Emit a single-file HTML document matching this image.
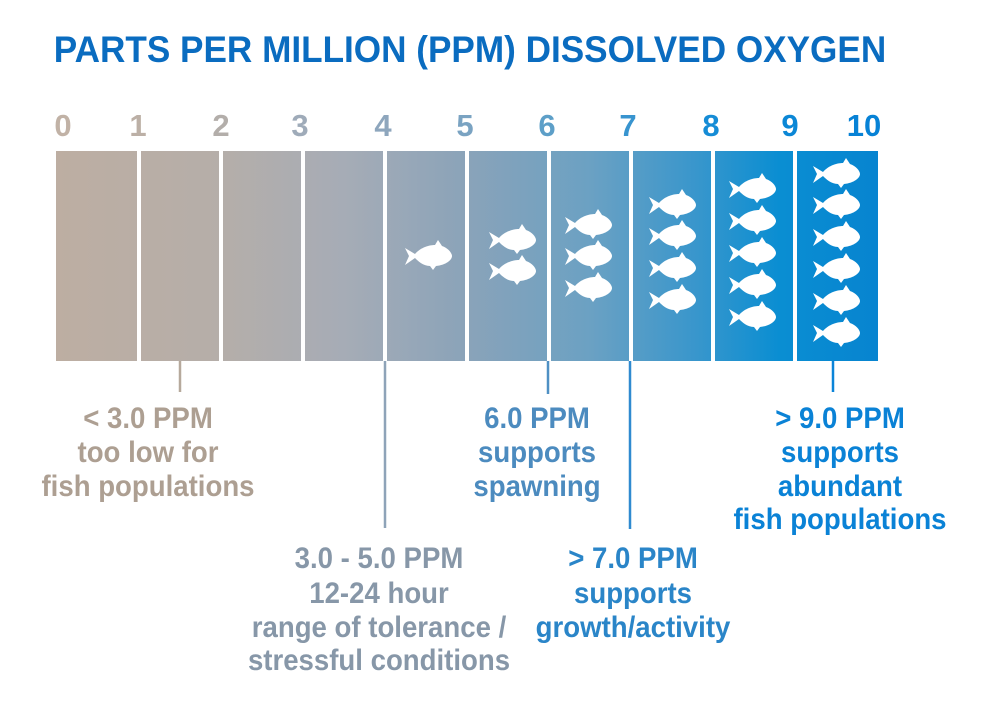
<!DOCTYPE html>
<html><head><meta charset="utf-8"><style>
html,body{margin:0;padding:0;background:#fff}
svg{display:block}
text{font-family:"Liberation Sans",sans-serif;font-weight:bold}
</style></head><body>
<svg width="1000" height="702" viewBox="0 0 1000 702" xmlns="http://www.w3.org/2000/svg">
<defs>
<linearGradient id="g" x1="56" x2="878" y1="0" y2="0" gradientUnits="userSpaceOnUse">
<stop offset="0" stop-color="#bdaea2"/>
<stop offset="0.2" stop-color="#b5aea9"/>
<stop offset="0.35" stop-color="#a6acb6"/>
<stop offset="0.5" stop-color="#8aa3b9"/>
<stop offset="0.65" stop-color="#6ba1c3"/>
<stop offset="0.78" stop-color="#3896cc"/>
<stop offset="0.88" stop-color="#0a8ed2"/>
<stop offset="1" stop-color="#0784d0"/>
</linearGradient>
<path id="f" d="M-23,-8 L-13,-2 C-7,-9 2,-11 7,-11 L10,-16 L14,-10 C20,-8 24,-3 24,0 C24,4 18,9 8,10 L5,14 L2,10 C-5,10 -10,5 -13,2 L-23,9 L-19,0 Z" fill="#fff"/>
</defs>
<g transform="translate(470,0) scale(0.95,1)"><text x="0" y="62" font-size="37" fill="#0a6cc0" text-anchor="middle">PARTS PER MILLION (PPM) DISSOLVED OXYGEN</text></g>
<g font-size="31" text-anchor="middle">
<text x="63" y="136" fill="#c1b2a6">0</text>
<text x="138" y="136" fill="#bcb0a6">1</text>
<text x="221" y="136" fill="#b3aeaa">2</text>
<text x="300" y="136" fill="#9fabb9">3</text>
<text x="383" y="136" fill="#8ea6bd">4</text>
<text x="465" y="136" fill="#7aa3c2">5</text>
<text x="547" y="136" fill="#5d9fc8">6</text>
<text x="628" y="136" fill="#3894cf">7</text>
<text x="711" y="136" fill="#158cd6">8</text>
<text x="790" y="136" fill="#0b87d6">9</text>
<text x="864" y="136" fill="#0782d6">10</text>
</g>
<rect x="56" y="151" width="822" height="210" fill="url(#g)"/>
<g fill="#fff">
<rect x="137" y="151" width="4" height="210"/><rect x="219" y="151" width="4" height="210"/>
<rect x="301" y="151" width="4" height="210"/><rect x="383" y="151" width="4" height="210"/>
<rect x="465" y="151" width="4" height="210"/><rect x="547" y="151" width="4" height="210"/>
<rect x="629" y="151" width="4" height="210"/><rect x="711" y="151" width="4" height="210"/>
<rect x="793" y="151" width="4" height="210"/>
</g>
<use href="#f" x="428" y="256"/>
<use href="#f" x="512" y="240"/><use href="#f" x="512" y="271"/>
<use href="#f" x="588" y="225"/><use href="#f" x="588" y="256"/><use href="#f" x="588" y="288"/>
<use href="#f" x="672" y="205"/><use href="#f" x="672" y="236"/><use href="#f" x="672" y="268"/><use href="#f" x="672" y="300"/>
<use href="#f" x="752" y="189"/><use href="#f" x="752" y="221"/><use href="#f" x="752" y="253"/><use href="#f" x="752" y="285"/><use href="#f" x="752" y="317"/>
<use href="#f" x="836" y="174"/><use href="#f" x="836" y="205"/><use href="#f" x="836" y="237"/><use href="#f" x="836" y="269"/><use href="#f" x="836" y="301"/><use href="#f" x="836" y="333"/>
<g stroke-width="2.5">
<line x1="180" y1="361" x2="180" y2="392" stroke="#b6a99c"/>
<line x1="385" y1="361" x2="385" y2="528" stroke="#8ea3b8"/>
<line x1="548" y1="361" x2="548" y2="394" stroke="#4f90c4"/>
<line x1="630" y1="361" x2="630" y2="529" stroke="#2f8ad0"/>
<line x1="833" y1="361" x2="833" y2="392" stroke="#0a84d8"/>
</g>
<g font-size="30" text-anchor="middle">
<g transform="translate(148,0) scale(0.92,1)" fill="#ad9f92">
<text y="428">&lt; 3.0 PPM</text><text y="462">too low for</text><text y="496">fish populations</text></g>
<g transform="translate(379,0) scale(0.92,1)" fill="#8797a8">
<text y="568">3.0 - 5.0 PPM</text><text y="603">12-24 hour</text><text y="637">range of tolerance /</text><text y="670">stressful conditions</text></g>
<g transform="translate(537,0) scale(0.92,1)" fill="#4c8bbf">
<text y="428">6.0 PPM</text><text y="462">supports</text><text y="496">spawning</text></g>
<g transform="translate(633,0) scale(0.92,1)" fill="#2a85c8">
<text y="568">&gt; 7.0 PPM</text><text y="603">supports</text><text y="637">growth/activity</text></g>
<g transform="translate(840,0) scale(0.92,1)" fill="#0a82d6">
<text y="428">&gt; 9.0 PPM</text><text y="462">supports</text><text y="496">abundant</text><text y="529">fish populations</text></g>
</g>
</svg>
</body></html>
